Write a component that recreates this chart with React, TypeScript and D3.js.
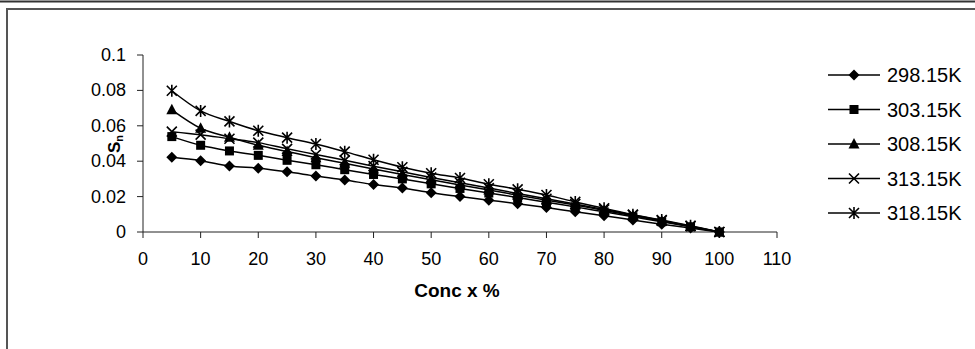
import { useMemo } from 'react'
import * as d3 from 'd3'

const conc = [5, 10, 15, 20, 25, 30, 35, 40, 45, 50, 55, 60, 65, 70, 75, 80, 85, 90, 95, 100]

const s298 = [0.0422, 0.0403, 0.0373, 0.036, 0.034, 0.0316, 0.0294, 0.0268, 0.0248, 0.0222, 0.02, 0.018, 0.016, 0.0138, 0.0114, 0.0092, 0.0068, 0.0044, 0.0022, 0]
const s303 = [0.0539, 0.049, 0.0458, 0.0433, 0.0405, 0.038, 0.0352, 0.0325, 0.03, 0.0272, 0.0246, 0.022, 0.0195, 0.0168, 0.0142, 0.0114, 0.0086, 0.0058, 0.0029, 0]
const s308 = [0.069, 0.0586, 0.0535, 0.049, 0.0455, 0.042, 0.0388, 0.0356, 0.0325, 0.0295, 0.0265, 0.0237, 0.0208, 0.018, 0.0152, 0.0122, 0.0092, 0.0062, 0.0031, 0]
const s313 = [0.0567, 0.055, 0.0527, 0.0505, 0.047, 0.0438, 0.0405, 0.0372, 0.034, 0.0308, 0.0278, 0.0248, 0.0218, 0.0188, 0.0158, 0.0127, 0.0096, 0.0065, 0.0033, 0]
const s318 = [0.0798, 0.0684, 0.0625, 0.0572, 0.0533, 0.0497, 0.0454, 0.0408, 0.0366, 0.0332, 0.0305, 0.027, 0.0241, 0.0209, 0.017, 0.0134, 0.0098, 0.0068, 0.0035, 0]

const seriesNames = ['298.15K', '303.15K', '308.15K', '313.15K', '318.15K']
const seriesValues = [s298, s303, s308, s313, s318]
const markerKinds = ['diamond', 'square', 'triangle', 'cross', 'star']

const xTicks = [0, 10, 20, 30, 40, 50, 60, 70, 80, 90, 100, 110]
const yTicks = [0, 0.02, 0.04, 0.06, 0.08, 0.1]

const FONT = '"Liberation Sans", Arial, sans-serif'

function Marker({ kind, x, y }: { kind: string; x: number; y: number }) {
  if (kind === 'diamond') {
    return <path d={`M${x},${y - 5.5}L${x + 5.5},${y}L${x},${y + 5.5}L${x - 5.5},${y}Z`} fill="#000" />
  }
  if (kind === 'square') {
    return <rect x={x - 4.5} y={y - 4.5} width={9} height={9} fill="#000" />
  }
  if (kind === 'triangle') {
    return <path d={`M${x},${y - 6}L${x + 5.5},${y + 4.5}L${x - 5.5},${y + 4.5}Z`} fill="#000" />
  }
  if (kind === 'cross') {
    return <path d={`M${x - 5},${y - 5}L${x + 5},${y + 5}M${x - 5},${y + 5}L${x + 5},${y - 5}`} stroke="#000" strokeWidth={1.6} fill="none" />
  }
  return (
    <path
      d={`M${x - 5},${y - 5}L${x + 5},${y + 5}M${x - 5},${y + 5}L${x + 5},${y - 5}M${x},${y - 6}L${x},${y + 6}`}
      stroke="#000"
      strokeWidth={1.6}
      fill="none"
    />
  )
}

export default function App() {
  const width = 975
  const height = 349

  const x = useMemo(() => d3.scaleLinear().domain([0, 110]).range([143, 777]), [])
  const y = useMemo(() => d3.scaleLinear().domain([0, 0.1]).range([232, 55]), [])

  const line = d3
    .line<number>()
    .x((_, i) => x(conc[i]))
    .y(d => y(d))
    .curve(d3.curveCatmullRom.alpha(0))

  const legendX = 828
  const legendY0 = 75
  const legendStep = 34.5

  return (
    <svg
      width={width}
      height={height}
      style={{ position: 'absolute', left: 0, top: 0, display: 'block', background: '#fff' }}
      fontFamily={FONT}
    >
      {/* page rule and frame */}
      <line x1={0} x2={width} y1={1.5} y2={1.5} stroke="#333" strokeWidth={2} />
      <path d={`M7,${height + 5}V9H${width + 5}`} fill="none" stroke="#555" strokeWidth={2} />

      {/* axes */}
      <line x1={x(0)} x2={x(110)} y1={y(0)} y2={y(0)} stroke="#222" strokeWidth={1} />
      <line x1={x(0)} x2={x(0)} y1={y(0)} y2={y(0.1)} stroke="#222" strokeWidth={1} />
      {xTicks.map(t => (
        <g key={`x${t}`}>
          <line x1={x(t)} x2={x(t)} y1={y(0)} y2={y(0) + 6} stroke="#222" />
          <text x={x(t)} y={265} textAnchor="middle" fontSize={18}>
            {t}
          </text>
        </g>
      ))}
      {yTicks.map(t => (
        <g key={`y${t}`}>
          <line x1={x(0) - 6} x2={x(0)} y1={y(t)} y2={y(t)} stroke="#222" />
          <text x={126} y={y(t) + 6} textAnchor="end" fontSize={18}>
            {d3.format('~g')(t)}
          </text>
        </g>
      ))}

      {/* axis titles */}
      <text x={457} y={297} textAnchor="middle" fontSize={19} fontWeight="bold">
        Conc x %
      </text>
      <text transform="translate(120,153) rotate(-90)" fontSize={17} fontWeight="bold">
        S<tspan fontSize={11} dy={3}>n</tspan>
      </text>

      {/* series */}
      {seriesValues.map((vals, si) => (
        <g key={seriesNames[si]}>
          <path d={line(vals) || ''} fill="none" stroke="#000" strokeWidth={1.5} />
          {vals.map((v, i) => (
            <Marker key={i} kind={markerKinds[si]} x={x(conc[i])} y={y(v)} />
          ))}
        </g>
      ))}

      {/* legend */}
      {seriesNames.map((name, i) => {
        const ly = legendY0 + i * legendStep
        return (
          <g key={`l${name}`}>
            <line x1={legendX} x2={legendX + 52} y1={ly} y2={ly} stroke="#000" strokeWidth={1.5} />
            <Marker kind={markerKinds[i]} x={legendX + 26} y={ly} />
            <text x={887} y={ly + 7} fontSize={20}>
              {name}
            </text>
          </g>
        )
      })}
    </svg>
  )
}
